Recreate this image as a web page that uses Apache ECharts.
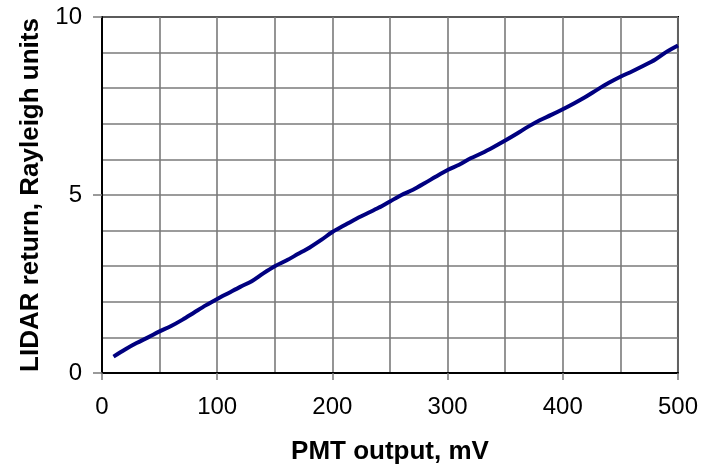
<!DOCTYPE html>
<html>
<head>
<meta charset="utf-8">
<script src="https://cdn.jsdelivr.net/npm/echarts@6/dist/echarts.min.js"></script>
<style>
  html, body { margin: 0; padding: 0; background: #fff; }
  #main { width: 701px; height: 474px; }
</style>
</head>
<body>
<div id="main"></div>
<script>
// PMT output (mV) and matching LIDAR return (Rayleigh units)
const pmtMv = [10, 20, 30, 40, 50, 60, 70, 80, 90, 100,
  110, 120, 130, 140, 150, 160, 170, 180, 190, 200,
  210, 220, 230, 240, 250, 260, 270, 280, 290, 300,
  310, 320, 330, 340, 350, 360, 370, 380, 390, 400,
  410, 420, 430, 440, 450, 460, 470, 480, 490, 500];
const lidarReturn = [0.46, 0.66, 0.84, 1.00, 1.17, 1.32, 1.50, 1.70, 1.90, 2.08,
  2.25, 2.42, 2.58, 2.80, 3.00, 3.16, 3.34, 3.52, 3.73, 3.96,
  4.14, 4.32, 4.48, 4.64, 4.82, 5.00, 5.15, 5.33, 5.52, 5.70,
  5.85, 6.03, 6.18, 6.35, 6.53, 6.72, 6.92, 7.10, 7.25, 7.41,
  7.58, 7.76, 7.96, 8.15, 8.32, 8.47, 8.63, 8.80, 9.02, 9.20];
const xTicks = [0, 100, 200, 300, 400, 500];
const yTicks = [0, 5, 10];

const font = 'Liberation Sans, Arial, sans-serif';
const gridGray = '#7a7a7a';

const chart = echarts.init(document.getElementById('main'));
chart.setOption({
  animation: false,
  grid: {
    left: 102, right: 23, top: 17, bottom: 101,
    show: true, borderColor: '#000', borderWidth: 2
  },
  xAxis: {
    type: 'value',
    min: xTicks[0], max: xTicks[xTicks.length - 1], interval: 100,
    name: 'PMT output, mV',
    nameLocation: 'middle', nameGap: 66,
    nameTextStyle: { fontFamily: font, fontSize: 26, fontWeight: 'bold', color: '#000' },
    axisLine: { lineStyle: { color: '#000', width: 2 } },
    axisTick: { show: true, length: 7, lineStyle: { color: gridGray, width: 1.5 } },
    axisLabel: { margin: 22, fontFamily: font, fontSize: 24, color: '#000' },
    splitLine: { show: true, lineStyle: { color: gridGray, width: 1.6 } },
    minorTick: { show: false, splitNumber: 2 },
    minorSplitLine: { show: true, lineStyle: { color: gridGray, width: 1.6 } }
  },
  yAxis: {
    type: 'value',
    min: yTicks[0], max: yTicks[yTicks.length - 1], interval: 5,
    name: 'LIDAR return, Rayleigh units',
    nameLocation: 'middle', nameGap: 58,
    nameTextStyle: { fontFamily: font, fontSize: 26, fontWeight: 'bold', color: '#000' },
    axisLine: { show: true, lineStyle: { color: '#000', width: 2 } },
    axisTick: { show: true, length: 9, lineStyle: { color: gridGray, width: 1.5 } },
    axisLabel: { margin: 20, fontFamily: font, fontSize: 24, color: '#000' },
    splitLine: { show: true, lineStyle: { color: gridGray, width: 1.6 } },
    minorTick: { show: false, splitNumber: 5 },
    minorSplitLine: { show: true, lineStyle: { color: gridGray, width: 1.6 } }
  },
  series: [{
    type: 'line',
    data: pmtMv.map((v, i) => [v, lidarReturn[i]]),
    showSymbol: false,
    smooth: 0.3,
    lineStyle: { color: '#000080', width: 4 }
  }]
});
</script>
</body>
</html>
